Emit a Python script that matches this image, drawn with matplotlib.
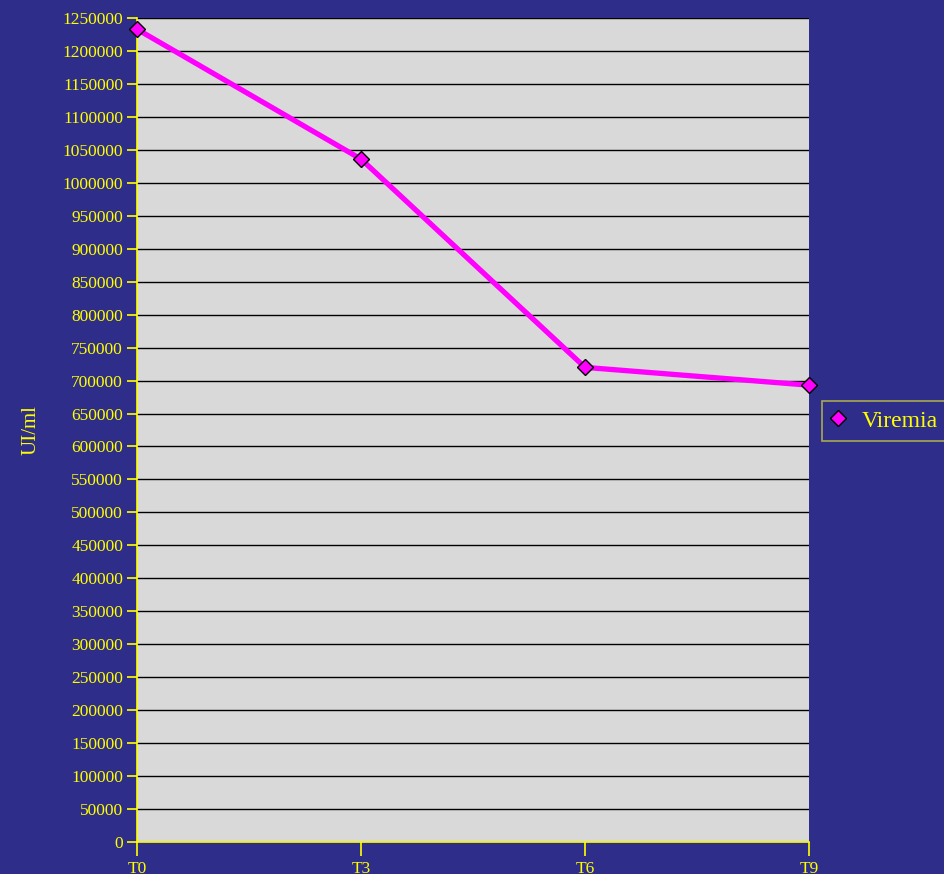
import matplotlib
matplotlib.use("Agg")
import matplotlib.pyplot as plt

categories = ["T0", "T3", "T6", "T9"]
viremia = [1233000, 1036000, 720000, 693000]
y_ticks = list(range(0, 1250001, 50000))

bg = "#2E2E8A"
plot_bg = "#D9D9D9"
yellow = "#FFFF00"
magenta = "#FF00FF"

plt.rcParams["font.family"] = ["Liberation Serif", "DejaVu Serif"]

fig = plt.figure(figsize=(9.44, 8.74), dpi=100, facecolor=bg)
ax = fig.add_axes([137 / 944, 32 / 874, 672 / 944, 824 / 874])
ax.set_facecolor(plot_bg)

x = list(range(len(categories)))
ax.plot(x, viremia, color=magenta, lw=3.8, marker="D", markersize=8.5,
        markerfacecolor=magenta, markeredgecolor="black", markeredgewidth=1.0,
        label="Viremia", zorder=5, clip_on=False)

ax.set_xlim(0, len(categories) - 1)
ax.set_ylim(0, 1250000)
ax.set_xticks(x)
ax.set_xticklabels(categories)
ax.set_yticks(y_ticks)
ax.set_yticklabels([str(v) for v in y_ticks])

ax.grid(axis="y", color="black", lw=1.0)
ax.set_axisbelow(True)

for side in ("top", "right"):
    ax.spines[side].set_visible(False)
ax.spines["left"].set_color(yellow)
ax.spines["bottom"].set_color(yellow)
ax.spines["left"].set_linewidth(1.2)
ax.spines["bottom"].set_linewidth(1.2)

ax.tick_params(axis="y", colors=yellow, labelcolor=yellow, labelsize=12.5,
               length=7, width=1.2, direction="out", pad=3)
ax.tick_params(axis="x", colors=yellow, labelcolor=yellow, labelsize=12.5,
               length=10, width=1.2, direction="out", pad=4)

ax.set_ylabel("UI/ml", color=yellow, fontsize=15, labelpad=16)

leg = ax.legend(loc="center left", bbox_to_anchor=(1.019, 0.511),
                frameon=True, fancybox=False, fontsize=17,
                handlelength=0.6, handletextpad=0.7, borderpad=0.38,
                borderaxespad=0)
leg.get_frame().set_facecolor(bg)
leg.get_frame().set_edgecolor("#C8C83C")
leg.get_frame().set_linewidth(1.2)
for t in leg.get_texts():
    t.set_color(yellow)
for h in leg.legend_handles:
    h.set_linestyle("none")

fig.savefig("out.png", dpi=100, facecolor=bg)
